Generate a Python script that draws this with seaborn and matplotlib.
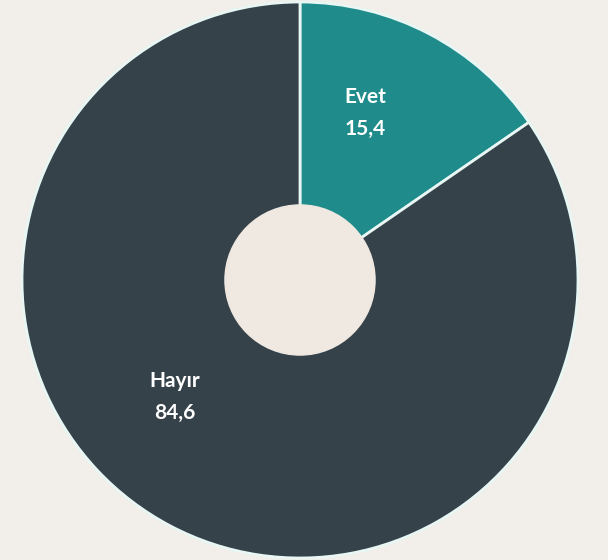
import matplotlib
matplotlib.use("Agg")
import matplotlib.pyplot as plt
import seaborn as sns

categories = ["Evet", "Hayır"]
values = [15.4, 84.6]
value_labels = ["15,4", "84,6"]

sns.set_theme(style="white")
plt.rcParams['font.family'] = ['Lato', 'DejaVu Sans']

colors = ["#1f8c8b", "#36424a"]
bg = "#f2eee9"

fig = plt.figure(figsize=(6.08, 5.6), dpi=100, facecolor=bg)
ax = fig.add_axes([0, 0, 1, 1])
ax.set_facecolor(bg)

wedges, _ = ax.pie(values, colors=colors, startangle=90, counterclock=False,
                   radius=1.0, wedgeprops=dict(edgecolor="#e8f6f4", linewidth=2))
hole = plt.Circle((0, 0), 0.27, color="#efe9e2", zorder=3)
ax.add_patch(hole)

label_pos = [(0.235, 0.60), (-0.45, -0.42)]
for cat, vl, (x, y) in zip(categories, value_labels, label_pos):
    ax.text(x, y, f"{cat}\n{vl}", ha="center", va="center", color="white",
            fontsize=15, fontweight="bold", linespacing=1.75)

ax.set_aspect("auto")
ax.set_xlim(-300 / 278, 308 / 278)
ax.set_ylim(-280 / 278, 280 / 278)
ax.axis("off")

fig.savefig("out.png", dpi=100, facecolor=bg)
